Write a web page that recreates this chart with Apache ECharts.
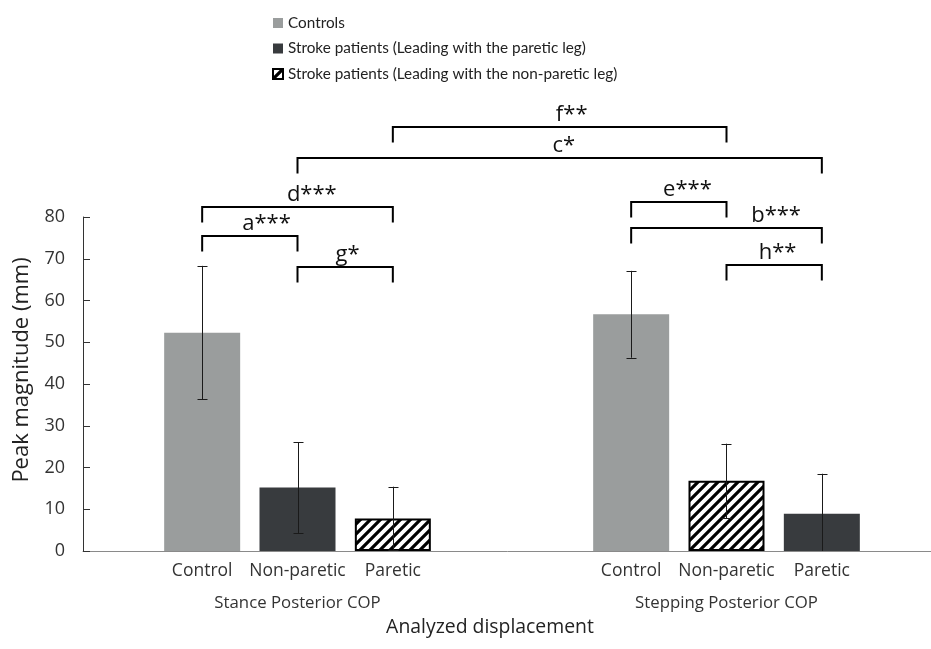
<!DOCTYPE html>
<html><head><meta charset="utf-8">
<script src="https://cdn.jsdelivr.net/npm/echarts@6/dist/echarts.min.js"></script>
<style>html,body{margin:0;padding:0;background:#fff;overflow:hidden}#chart{width:931px;height:649px}</style>
</head><body><div id="chart"></div>
<script>
// ---------- data ----------
const seriesNames = ['Controls', 'Stroke patients (Leading with the paretic leg)', 'Stroke patients (Leading with the non-paretic leg)'];
const groupNames = ['Stance Posterior COP', 'Stepping Posterior COP'];
const barLabels = ['Control', 'Non-paretic', 'Paretic', 'Control', 'Non-paretic', 'Paretic'];
const barGroup = [0, 0, 0, 1, 1, 1];
const barSeries = [0, 1, 2, 0, 2, 1];
const meanValues = [52.3, 15.2, 7.8, 56.7, 16.8, 8.9];
const sdValues = [16.0, 10.9, 7.6, 10.4, 8.9, 9.6];
const yAxisMin = 0, yAxisMax = 80, yAxisStep = 10;
// significance brackets (bar indices, height in mm)
const bracketLabels = ['f**', 'c*', 'd***', 'e***', 'b***', 'a***', 'g*', 'h**'];
const bracketFrom = [2, 1, 0, 3, 3, 0, 1, 4];
const bracketTo = [4, 5, 2, 4, 5, 1, 2, 5];
const bracketLevel = [101.6, 94.2, 82.4, 83.7, 77.4, 75.5, 68.0, 68.4];

// ---------- layout / style ----------
const SLOT_COUNT = 18, GROUP_START = [2, 11], SLOT_STEP = 2;
const LABEL_FRAC = [0.536, 0.508, 0.575, 0.59, 0.76, 0.675, 0.525, 0.535];
const DROP = 15.5;
const COLORS = ['#9a9d9d', '#383b3e'];
const TEXT = '#333';

function slotOf(i) { return GROUP_START[barGroup[i]] + SLOT_STEP * (i % 3); }

const hatch = document.createElement('canvas');
hatch.width = 10; hatch.height = 10;
(function () {
  const c = hatch.getContext('2d');
  c.fillStyle = '#fff'; c.fillRect(0, 0, 10, 10);
  c.strokeStyle = '#000'; c.lineWidth = 3.2; c.lineCap = 'square';
  c.beginPath();
  c.moveTo(-5, 5); c.lineTo(5, -5);
  c.moveTo(0, 10); c.lineTo(10, 0);
  c.moveTo(5, 15); c.lineTo(15, 5);
  c.stroke();
})();

const axisCats = new Array(SLOT_COUNT).fill('');
barLabels.forEach((l, i) => { axisCats[slotOf(i)] = l; });
const groupCats = new Array(SLOT_COUNT).fill('');
groupNames.forEach((g, k) => { groupCats[GROUP_START[k] + SLOT_STEP] = g; });

const barSeriesList = seriesNames.map((name, s) => {
  const data = new Array(SLOT_COUNT).fill('-');
  meanValues.forEach((v, i) => { if (barSeries[i] === s) data[slotOf(i)] = v; });
  const itemStyle = s === 2
    ? { color: { image: hatch, repeat: 'repeat' }, borderColor: '#000', borderWidth: 2 }
    : { color: COLORS[s] };
  return { type: 'bar', name, data, barWidth: 76, barGap: '-100%', itemStyle, z: 2, silent: true };
});

const errData = meanValues.map((m, i) => [slotOf(i), Math.max(0, m - sdValues[i]), m + sdValues[i]]);
const errSeries = {
  type: 'custom', name: 'err', data: errData, z: 5, silent: true,
  encode: { x: 0, y: [1, 2] },
  renderItem(params, api) {
    const lo = api.coord([api.value(0), api.value(1)]);
    const hi = api.coord([api.value(0), api.value(2)]);
    const x = Math.round(lo[0]) + 0.5, cap = 5;
    const st = { stroke: '#1a1a1a', lineWidth: 1 };
    const children = [
      { type: 'line', shape: { x1: x, y1: lo[1], x2: x, y2: hi[1] }, style: st },
      { type: 'line', shape: { x1: x - cap, y1: Math.round(hi[1]) + 0.5, x2: x + cap, y2: Math.round(hi[1]) + 0.5 }, style: st }
    ];
    if (api.value(1) > 0) children.push({ type: 'line', shape: { x1: x - cap, y1: Math.round(lo[1]) + 0.5, x2: x + cap, y2: Math.round(lo[1]) + 0.5 }, style: st });
    return { type: 'group', children };
  }
};

const bracketData = bracketLevel.map((lv, i) => [slotOf(bracketFrom[i]), lv, slotOf(bracketTo[i])]);
const bracketSeries = {
  type: 'custom', name: 'brackets', data: bracketData, z: 6, clip: false, silent: true,
  encode: { x: 0, y: 1 },
  renderItem(params, api) {
    const i = params.dataIndex;
    const a = api.coord([api.value(0), api.value(1)]);
    const b = api.coord([api.value(2), api.value(1)]);
    const y = Math.round(a[1]);
    return {
      type: 'group', children: [
        { type: 'polyline', shape: { points: [[a[0], y + DROP], [a[0], y], [b[0], y], [b[0], y + DROP]] },
          style: { stroke: '#000', lineWidth: 2, fill: null } },
        { type: 'text', style: { text: bracketLabels[i], x: a[0] + LABEL_FRAC[i] * (b[0] - a[0]), y: y - 1,
          align: 'center', verticalAlign: 'bottom', font: '22px "Open Sans"', fill: '#111' } }
      ]
    };
  }
};

const chart = echarts.init(document.getElementById('chart'), null, { renderer: 'canvas' });
chart.setOption({
  animation: false,
  backgroundColor: '#fff',
  legend: {
    data: seriesNames, orient: 'vertical', left: 267, top: 9,
    icon: 'rect', itemWidth: 10, itemHeight: 10, itemGap: 7.5,
    textStyle: { fontFamily: 'Lato', fontSize: 15.3, color: '#222', lineHeight: 18 },
    selectedMode: false
  },
  grid: { left: 83, top: 217, width: 858, height: 334, containLabel: false, outerBoundsMode: 'none' },
  xAxis: [
    { type: 'category', data: axisCats, axisTick: { show: false },
      axisLine: { lineStyle: { color: '#8a8a8a', width: 1 } },
      axisLabel: { interval: 0, margin: 11, fontSize: 17.5, fontFamily: '"Open Sans"', color: TEXT } },
    { type: 'category', data: groupCats, position: 'bottom', axisTick: { show: false }, axisLine: { show: false },
      axisLabel: { interval: 0, margin: 44, fontSize: 16.8, fontFamily: '"Open Sans"', color: TEXT },
      name: 'Analyzed displacement', nameLocation: 'middle', nameGap: 67,
      nameTextStyle: { fontSize: 19.4, fontFamily: '"Open Sans"', color: '#222', padding: [0, 44, 0, 0] } }
  ],
  yAxis: {
    type: 'value', min: yAxisMin, max: yAxisMax, interval: yAxisStep,
    axisLine: { show: true, lineStyle: { color: '#333', width: 1 } },
    axisTick: { show: true, inside: true, length: 7, lineStyle: { color: '#333' } },
    splitLine: { show: false },
    axisLabel: { margin: 18, fontSize: 18, fontFamily: '"Open Sans"', color: TEXT },
    name: 'Peak magnitude (mm)', nameLocation: 'middle', nameGap: 50,
    nameTextStyle: { fontSize: 22, fontFamily: '"Open Sans"', color: '#222', padding: [0, 0, 0, 28] }
  },
  series: [...barSeriesList, errSeries, bracketSeries]
});
</script></body></html>
